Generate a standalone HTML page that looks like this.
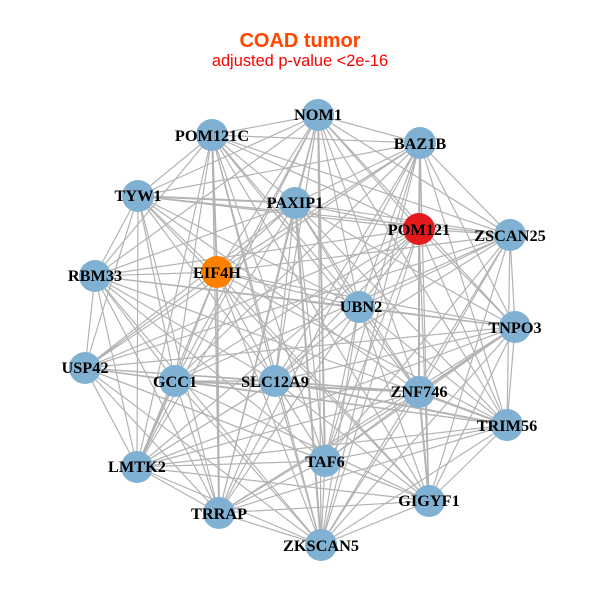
<!DOCTYPE html>
<html><head><meta charset="utf-8"><style>
html,body{margin:0;padding:0;background:#fff}
svg{display:block}
.n{font:bold 16.3px "Liberation Serif",serif;text-anchor:middle;fill:#000}
</style></head><body>
<svg width="600" height="600" viewBox="0 0 600 600" xmlns="http://www.w3.org/2000/svg">
<rect width="600" height="600" fill="#fff"/>
<g fill="none" stroke="#b3b3b3" stroke-width="1.2">
<path d="M212 135L318 115M212 135L420 143M212 135L510 235M212 135L429 501M212 135L321 545M212 135L219 513M212 135L137 467M212 135L95 276M212 135L138 196M212 135L295 203M212 135L419 229M212 135L359 307M212 135L419 392M212 135L325 461M212 135L275 381M212 135L175 381M212 135L217 272"/>
<path d="M318 115L420 143M318 115L510 235M318 115L515 327M318 115L507 425M318 115L321 545M318 115L219 513M318 115L137 467M318 115L95 276M318 115L138 196M318 115L295 203M318 115L419 229M318 115L359 307M318 115L419 392M318 115L325 461M318 115L275 381M318 115L175 381M318 115L217 272"/>
<path d="M420 143L510 235M420 143L515 327M420 143L507 425M420 143L429 501M420 143L321 545M420 143L219 513M420 143L85 368M420 143L138 196M420 143L295 203M420 143L419 229M420 143L359 307M420 143L419 392M420 143L325 461M420 143L275 381M420 143L175 381M420 143L217 272"/>
<path d="M510 235L515 327M510 235L507 425M510 235L429 501M510 235L321 545M510 235L137 467M510 235L85 368M510 235L138 196M510 235L295 203M510 235L419 229M510 235L359 307M510 235L419 392M510 235L325 461M510 235L275 381M510 235L175 381M510 235L217 272"/>
<path d="M515 327L507 425M515 327L429 501M515 327L321 545M515 327L219 513M515 327L137 467M515 327L85 368M515 327L95 276M515 327L295 203M515 327L419 229M515 327L359 307M515 327L419 392M515 327L325 461M515 327L275 381M515 327L217 272"/>
<path d="M507 425L429 501M507 425L321 545M507 425L219 513M507 425L137 467M507 425L85 368M507 425L95 276M507 425L295 203M507 425L419 229M507 425L359 307M507 425L419 392M507 425L325 461M507 425L275 381M507 425L175 381M507 425L217 272"/>
<path d="M429 501L321 545M429 501L219 513M429 501L137 467M429 501L85 368M429 501L138 196M429 501L419 229M429 501L359 307M429 501L419 392M429 501L325 461M429 501L275 381M429 501L175 381M429 501L217 272"/>
<path d="M321 545L219 513M321 545L137 467M321 545L85 368M321 545L95 276M321 545L295 203M321 545L419 229M321 545L359 307M321 545L419 392M321 545L325 461M321 545L275 381M321 545L175 381M321 545L217 272"/>
<path d="M219 513L137 467M219 513L85 368M219 513L95 276M219 513L138 196M219 513L295 203M219 513L359 307M219 513L419 392M219 513L325 461M219 513L275 381M219 513L175 381M219 513L217 272"/>
<path d="M137 467L85 368M137 467L95 276M137 467L138 196M137 467L295 203M137 467L419 229M137 467L419 392M137 467L325 461M137 467L275 381M137 467L175 381M137 467L217 272"/>
<path d="M85 368L95 276M85 368L138 196M85 368L295 203M85 368L419 229M85 368L419 392M85 368L325 461M85 368L275 381M85 368L175 381M85 368L217 272"/>
<path d="M95 276L138 196M95 276L295 203M95 276L419 229M95 276L359 307M95 276L325 461M95 276L275 381M95 276L175 381M95 276L217 272"/>
<path d="M138 196L295 203M138 196L419 229M138 196L359 307M138 196L419 392M138 196L275 381M138 196L175 381M138 196L217 272"/>
<path d="M295 203L419 229M295 203L359 307M295 203L419 392M295 203L325 461M295 203L275 381M295 203L217 272"/>
<path d="M419 229L359 307M419 229L419 392M419 229L325 461M419 229L275 381M419 229L175 381"/>
<path d="M359 307L419 392M359 307L325 461M359 307L275 381M359 307L217 272"/>
<path d="M419 392L325 461M419 392L275 381M419 392L175 381"/>
<path d="M325 461L275 381"/>
<path d="M275 381L175 381M275 381L217 272"/>
<path d="M175 381L217 272"/>
</g>
<g fill="none" stroke="#b3b3b3" stroke-width="2">
<path d="M420 143L419 229M419 229L419 392M419 392L429 501M318 115L325 461M217 272L219 513M138 196L295 203M275 381L507 425M419 392L507 425M175 381L419 392M137 467L175 381M295 203L321 545M515 327L419 392M212 135L217 272"/>
</g>
<g fill="#80b1d3">
<circle cx="212" cy="135" r="16"/><circle cx="318" cy="115" r="16"/><circle cx="420" cy="143" r="16"/><circle cx="510" cy="235" r="16"/><circle cx="515" cy="327" r="16"/><circle cx="507" cy="425" r="16"/><circle cx="429" cy="501" r="16"/><circle cx="321" cy="545" r="16"/><circle cx="219" cy="513" r="16"/><circle cx="137" cy="467" r="16"/><circle cx="85" cy="368" r="16"/><circle cx="95" cy="276" r="16"/><circle cx="138" cy="196" r="16"/><circle cx="295" cy="203" r="16"/><circle cx="359" cy="307" r="16"/><circle cx="419" cy="392" r="16"/><circle cx="325" cy="461" r="16"/><circle cx="275" cy="381" r="16"/><circle cx="175" cy="381" r="16"/>
</g>
<circle cx="419" cy="229" r="16" fill="#e41a1c"/>
<circle cx="217" cy="272" r="16" fill="#ff7f00"/>
<g class="l">
<text class="n" x="212" y="141">POM121C</text>
<text class="n" x="318" y="120">NOM1</text>
<text class="n" x="420" y="149">BAZ1B</text>
<text class="n" x="510" y="241">ZSCAN25</text>
<text class="n" x="515" y="333">TNPO3</text>
<text class="n" x="507" y="431">TRIM56</text>
<text class="n" x="429" y="506">GIGYF1</text>
<text class="n" x="321" y="551">ZKSCAN5</text>
<text class="n" x="219" y="519">TRRAP</text>
<text class="n" x="137" y="472">LMTK2</text>
<text class="n" x="85" y="373">USP42</text>
<text class="n" x="95" y="281">RBM33</text>
<text class="n" x="138" y="201">TYW1</text>
<text class="n" x="295" y="208">PAXIP1</text>
<text class="n" x="419" y="235">POM121</text>
<text class="n" x="361" y="312">UBN2</text>
<text class="n" x="419" y="397">ZNF746</text>
<text class="n" x="325" y="467">TAF6</text>
<text class="n" x="275" y="387">SLC12A9</text>
<text class="n" x="175" y="387">GCC1</text>
<text class="n" x="217" y="278">EIF4H</text>
</g>
<text x="300" y="47" text-anchor="middle" font-family="'Liberation Sans',sans-serif" font-weight="bold" font-size="20" fill="#ff4500">COAD tumor</text>
<text x="300" y="66" text-anchor="middle" font-family="'Liberation Sans',sans-serif" font-size="16.4" fill="#ff0000">adjusted p-value &lt;2e-16</text>
</svg>
</body></html>
